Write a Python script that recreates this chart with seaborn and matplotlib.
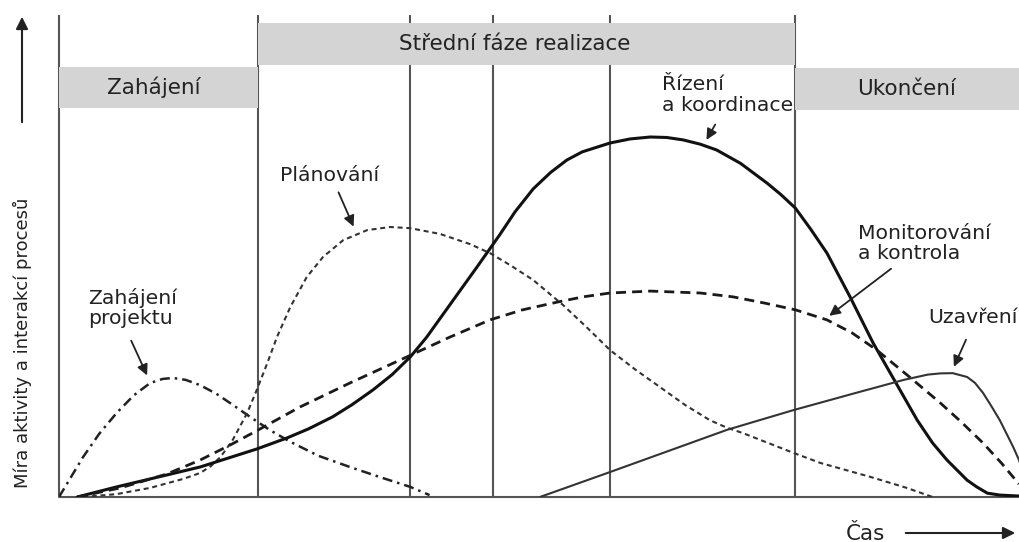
import pandas as pd
import seaborn as sns
from matplotlib import pyplot as plt

sns.set_theme(style='white')
plt.rcParams['font.family'] = ['DejaVu Sans']

# hranice fází projektu na ose času (0-100)
hranice_fazi = [0, 20.7, 36.6, 45.2, 57.4, 76.7]

# šedé pruhy s názvy fází
faze_nazvy = ['Zahájení', 'Střední fáze realizace', 'Ukončení']
faze_od = [0, 20.7, 76.7]
faze_do = [20.7, 76.7, 100]
faze_dolni = [81.0, 90.0, 80.6]
faze_horni = [89.6, 98.75, 89.4]
faze_text_x = [9.9, 47.5, 88.3]

# křivky procesů
cas_zahajeni = [0, 2.5, 4.2, 6.0, 7.8, 9.5, 10.8, 11.9, 13.2, 14.7, 16.4, 18.1, 19.9, 22.0,
                24.1, 27.0, 30.3, 33.5, 36.6, 38.6]
mira_zahajeni = [0, 8.3, 13.2, 17.5, 21.2, 23.75, 24.6, 24.8, 24.4, 23.3, 21.5, 19.2, 16.7, 13.9,
                 11.5, 8.6, 6.25, 4.1, 2.1, 0.4]

cas_planovani = [2.5, 6.0, 9.5, 12.9, 14.7, 15.8, 16.8, 17.4, 18.1, 19.6, 20.6, 21.7, 22.7,
                 24.1, 25.8, 27.5, 29.6, 32.1, 34.5, 36.6, 39.7, 42.8, 44.9, 47.0, 49.4, 52.5,
                 55.0, 57.4, 60.0, 62.6, 65.2, 67.8, 69.5, 71.25, 76.5, 79.3, 84.5, 88.3, 91.0]
mira_planovani = [0, 0.6, 1.9, 3.75, 5.0, 6.4, 8.3, 9.9, 11.9, 17.5, 22.3, 27.9, 33.3,
                  39.6, 45.8, 50.0, 53.5, 55.6, 56.25, 56.0, 54.8, 52.7, 50.8, 48.3, 45.2, 40.0,
                  35.3, 30.6, 26.6, 22.9, 19.2, 16.0, 14.5, 13.3, 9.2, 7.1, 4.2, 1.9, 0]

cas_rizeni = [1.9, 6.0, 11.25, 14.7, 20.6, 23.75, 26.0, 28.5, 30.5, 32.7, 34.7, 36.6, 38.3,
              40.7, 43.5, 45.9, 47.5, 49.4, 51.2, 52.9, 54.5, 57.4, 59.5, 61.6, 63.3, 65.0,
              66.8, 68.5, 71.0, 73.75, 75.2, 76.7, 78.3, 80.0, 82.4, 84.8, 87.6, 89.4, 91.0,
              92.5, 94.6, 95.6, 96.7, 98.0, 100]
mira_rizeni = [0, 2.1, 4.6, 6.25, 10.0, 12.3, 14.2, 16.7, 19.2, 22.3, 25.5, 29.2, 33.3,
               40.0, 47.8, 54.6, 59.4, 64.2, 67.6, 70.2, 71.9, 73.75, 74.6, 75.0, 74.9, 74.4,
               73.5, 72.3, 69.5, 65.4, 63.0, 60.2, 55.8, 50.8, 41.7, 32.1, 22.3, 16.0, 11.25,
               7.7, 3.5, 2.1, 0.8, 0.4, 0.2]

cas_monitorovani = [1.9, 6.4, 11.25, 14.7, 17.8, 20.6, 25.1, 30.3, 36.25, 40.7, 44.9, 48.3,
                    51.9, 54.6, 57.4, 61.6, 66.8, 70.2, 73.5, 76.7, 80.0, 82.6, 85.2, 88.6,
                    91.8, 94.0, 96.25, 98.2, 100]
mira_monitorovani = [0, 1.9, 4.8, 7.7, 10.8, 13.8, 18.75, 23.75, 29.2, 33.3, 36.9, 39.0,
                     40.6, 41.7, 42.5, 42.9, 42.5, 41.7, 40.4, 39.0, 36.9, 34.2, 30.6, 25.0,
                     19.6, 15.6, 11.25, 7.0, 2.7]

cas_uzavreni = [50.1, 57.4, 69.6, 76.5, 83.4, 88.0, 90.5, 91.8, 93.1, 94.6, 95.4, 96.25, 97.1,
                98.0, 99.4, 100, 101.1]
mira_uzavreni = [0, 5.2, 14.0, 18.1, 21.9, 24.4, 25.5, 25.75, 25.8, 25.0, 23.8, 21.7, 19.0,
                 16.0, 10.4, 7.7, 1.5]

procesy = {
    'Zahájení projektu': (cas_zahajeni, mira_zahajeni),
    'Plánování': (cas_planovani, mira_planovani),
    'Řízení a koordinace': (cas_rizeni, mira_rizeni),
    'Monitorování a kontrola': (cas_monitorovani, mira_monitorovani),
    'Uzavření': (cas_uzavreni, mira_uzavreni),
}
df = pd.concat([pd.DataFrame({'cas': c, 'mira': m, 'proces': p})
                for p, (c, m) in procesy.items()], ignore_index=True)

barvy = {'Zahájení projektu': '#222222', 'Plánování': '#333333', 'Řízení a koordinace': '#111111',
         'Monitorování a kontrola': '#1a1a1a', 'Uzavření': '#333333'}
carky = {'Zahájení projektu': (4, 2, 1, 2), 'Plánování': (2.4, 1.8), 'Řízení a koordinace': '',
         'Monitorování a kontrola': (3.6, 2.2), 'Uzavření': ''}
tloustky = {'Zahájení projektu': 1.8, 'Plánování': 1.5, 'Řízení a koordinace': 2.2,
            'Monitorování a kontrola': 2.0, 'Uzavření': 1.5}

fig = plt.figure(figsize=(10.19, 5.42), dpi=100)
ax = fig.add_axes([59 / 1019, 45 / 542, 960 / 1019, 484.8 / 542])

# svislé čáry fází a základní osa
ax.vlines(hranice_fazi, 0, 100.4, color='#555555', lw=1.5, zorder=1, clip_on=False)
ax.axhline(0, color='#555555', lw=1.5, zorder=1, clip_on=False)

for nazev, x0, x1, y0, y1, tx in zip(faze_nazvy, faze_od, faze_do, faze_dolni, faze_horni, faze_text_x):
    ax.fill_between([x0, x1], y0, y1, color='#d4d4d4', lw=0, zorder=3)
    ax.text(tx, (y0 + y1) / 2, nazev, ha='center', va='center', fontsize=15.5,
            color='#222222', zorder=4)

sns.lineplot(data=df, x='cas', y='mira', hue='proces', style='proces', size='proces',
             palette=barvy, dashes=carky, sizes=tloustky, estimator=None, sort=False,
             legend=False, ax=ax, zorder=2)

# popisky křivek se šipkami
popisky = [
    ('Zahájení\nprojektu', (3.0, 39.4), (7.4, 33.1), (9.3, 24.8)),
    ('Plánování', (23.0, 66.9), (29.0, 64.0), (30.8, 55.8)),
    ('Řízení\na koordinace', (62.8, 83.75), (68.5, 78.1), (67.3, 73.9)),
    ('Monitorování\na kontrola', (83.2, 52.8), (86.9, 47.9), (80.0, 37.4)),
    ('Uzavření', (90.5, 37.3), (94.6, 33.3), (93.1, 26.6)),
]
for text, pos, od, k in popisky:
    ax.text(pos[0], pos[1], text, ha='left', va='center', fontsize=14.7, color='#222222',
            linespacing=1.1)
    ax.annotate('', xy=k, xytext=od,
                arrowprops=dict(arrowstyle='-|>', color='#222222', lw=1.3, mutation_scale=16))

ax.set_xlim(0, 100)
ax.set_ylim(0, 101)
ax.set_axis_off()

# osa y - popisek a šipka
fig.text(22 / 1019, 1 - 343 / 542, 'Míra aktivity a interakcí procesů', rotation=90,
         ha='center', va='center', fontsize=13, color='#222222')
ax.annotate('', xy=(22 / 1019, 1 - 14 / 542), xytext=(22 / 1019, 1 - 125 / 542),
            xycoords='figure fraction', textcoords='figure fraction',
            arrowprops=dict(arrowstyle='-|>', color='#222222', lw=1.5, mutation_scale=18))

# osa času
fig.text(865 / 1019, 1 - 540 / 542, 'Čas', ha='center', va='baseline', fontsize=15.5,
         color='#222222')
ax.annotate('', xy=(1018 / 1019, 1 - 533 / 542), xytext=(903 / 1019, 1 - 533 / 542),
            xycoords='figure fraction', textcoords='figure fraction',
            arrowprops=dict(arrowstyle='-|>', color='#222222', lw=1.5, mutation_scale=18))

fig.savefig('out.png', dpi=100, facecolor='white')
